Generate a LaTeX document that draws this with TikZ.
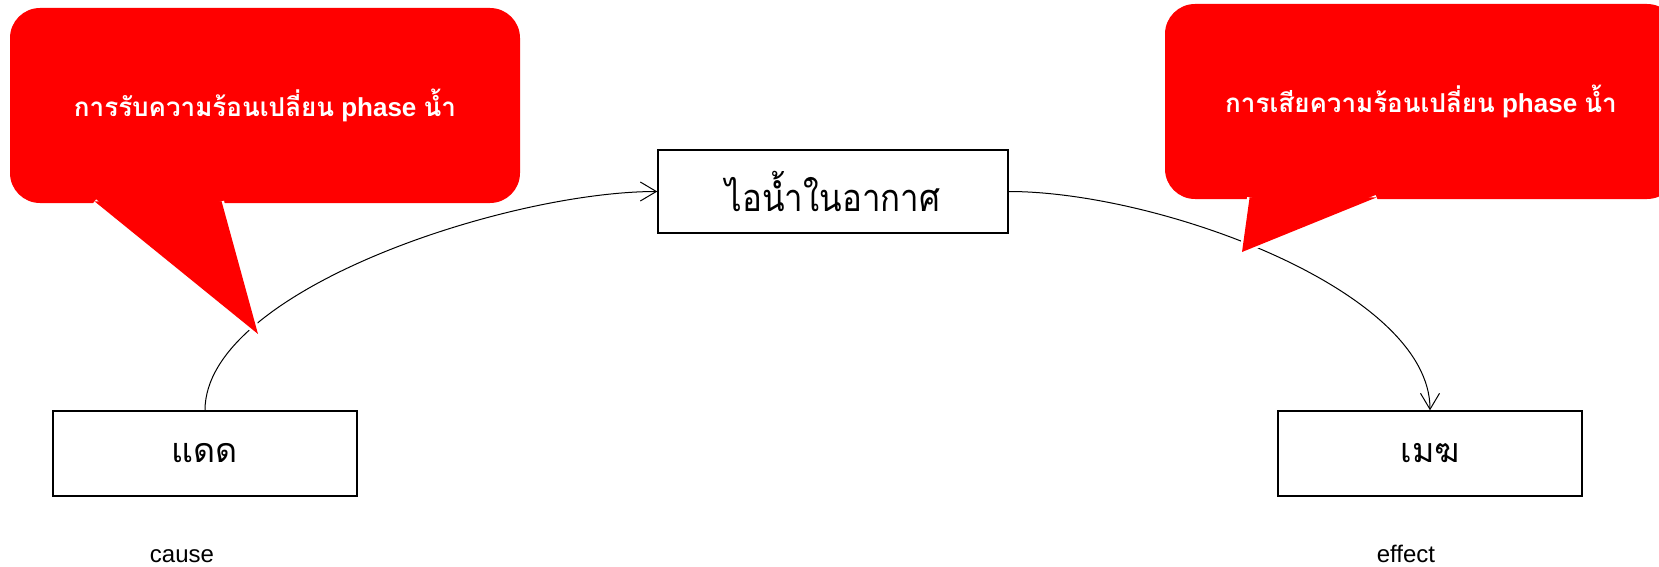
\documentclass[tikz,border=0pt]{standalone}
\usepackage{fontspec}
\setmainfont{Liberation Sans}
\newfontfamily\thaifont[Script=Thai]{Loma}
\newfontfamily\thainarrow[Script=Thai, FakeStretch=0.87]{Loma}
\usepackage{tikz}
\usetikzlibrary{positioning, arrows.meta}
\tikzset{
  thing/.style={
    draw, line width=0.7pt, inner sep=0pt,
    minimum width=152pt, minimum height=42.5pt,
    font=\thaifont\fontsize{17}{20}\selectfont
  },
  callout/.style={
    fill=red, rounded corners=15pt, inner sep=0pt,
    minimum height=97.5pt, text=white,
    font=\bfseries\fontsize{13}{16}\selectfont
  },
  pointer/.style={
    fill=red, preaction={draw=white, line width=2.5pt, line join=round}
  },
  flow/.style={draw, line width=0.5pt, -{Straight Barb[length=8pt, width=9.5pt]}},
  tag/.style={inner sep=0pt, text height=1ex, text depth=0pt,
    font=\fontsize{12}{14}\selectfont},
}

\begin{document}
\begin{tikzpicture}[x=0.5pt, y=-0.5pt]
  \useasboundingbox (0,0) rectangle (1659,567);

  \node[thing] (sun) at (205,453.5) {แดด};
  \node[thing, minimum width=175pt, minimum height=41.5pt,
        font=\thainarrow\fontsize{19}{23}\selectfont]
                 (vapour) at (833,191.5) {ไอน้ำในอากาศ};
  \node[thing] (cloud) at (1430,453.5) {เมฆ};

  \node[tag, below=27.5pt of sun, xshift=-11.5pt] (cause) {cause};
  \node[tag, below=27.5pt of cloud, xshift=-12pt] (effect) {effect};

  \draw[flow] (sun.north)
    to[out=90, in=180, out distance=60pt, in distance=75pt] (vapour.west);
  \draw[flow] (vapour.east)
    to[out=0, in=90, out distance=75pt, in distance=60pt] (cloud.north);

  \node[callout, minimum width=255pt] (gain) at (265,105.5)
    {{\thaifont การรับความร้อนเปลี่ยน} phase {\thaifont น้ำ}};
  \coordinate (gaintip) at (258,334);
  \fill[pointer] ([xshift=42.5pt, yshift=1pt]gain.south west)
    -- (gaintip) -- ([xshift=106pt, yshift=1pt]gain.south west);

  \node[callout, minimum width=256pt] (loss) at (1421,101.5)
    {{\thaifont การเสียความร้อนเปลี่ยน} phase {\thaifont น้ำ}};
  \coordinate (losstip) at (1242,252);
  \fill[pointer] ([xshift=42.5pt, yshift=1pt]loss.south west)
    -- (losstip) -- ([xshift=106pt, yshift=1pt]loss.south west);
\end{tikzpicture}
\end{document}
